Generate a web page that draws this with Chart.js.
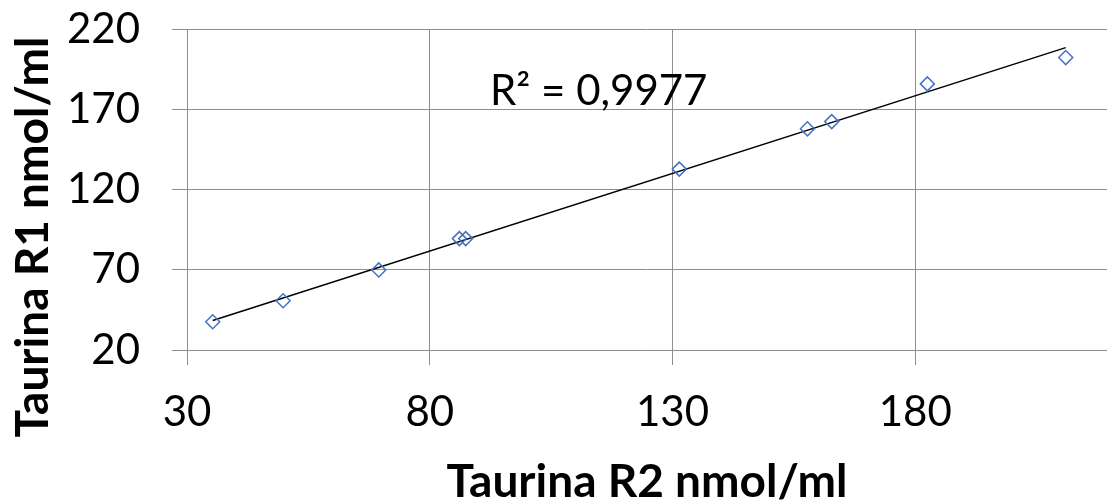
<!DOCTYPE html>
<html>
<head>
<meta charset="utf-8">
<script src="https://cdn.jsdelivr.net/npm/chart.js@4"></script>
<style>
  body { margin: 0; background: #fff; }
  #wrap { width: 1107px; height: 501px; position: relative; }
</style>
</head>
<body>
<div id="wrap"><canvas id="taurina"></canvas></div>
<script>
// Taurina R2 (x) vs Taurina R1 (y), nmol/ml
const xValues = [35.3, 49.8, 69.5, 86.1, 87.4, 131.4, 157.8, 162.8, 182.5, 211.0];
const yValues = [37.6, 50.7, 69.9, 89.4, 89.4, 132.7, 157.8, 162.3, 185.8, 202.2];
const xTicks = [30, 80, 130, 180];
const yTicks = [20, 70, 120, 170, 220];
const xTitle = 'Taurina R2 nmol/ml';
const yTitle = 'Taurina R1 nmol/ml';
const r2Label = 'R² = 0,9977';

const points = xValues.map((x, i) => ({ x: x, y: yValues[i] }));

// least squares trend line over the data range
const n = xValues.length;
const mx = xValues.reduce((a, b) => a + b, 0) / n;
const my = yValues.reduce((a, b) => a + b, 0) / n;
let sxy = 0, sxx = 0;
for (let i = 0; i < n; i++) {
  sxy += (xValues[i] - mx) * (yValues[i] - my);
  sxx += (xValues[i] - mx) * (xValues[i] - mx);
}
const slope = sxy / sxx;
const icpt = my - slope * mx;
const x0 = Math.min(...xValues), x1 = Math.max(...xValues);
const trend = [{ x: x0, y: icpt + slope * x0 }, { x: x1, y: icpt + slope * x1 }];

const gridColor = '#8e8e8e';
const fontFam = 'Lato, "Open Sans", sans-serif';

const extraText = {
  id: 'extraText',
  afterDraw(chart) {
    const ctx = chart.ctx;
    const xs = chart.scales.x, ys = chart.scales.y;
    ctx.save();
    ctx.fillStyle = '#000';
    ctx.font = '42px ' + fontFam;
    ctx.textAlign = 'left';
    ctx.textBaseline = 'alphabetic';
    ctx.fillText(r2Label, xs.getPixelForValue(92.4), ys.getPixelForValue(172.7));

    ctx.font = 'bold 46px ' + fontFam;
    ctx.translate(33, 237);
    ctx.rotate(-Math.PI / 2);
    ctx.textAlign = 'center';
    ctx.textBaseline = 'middle';
    ctx.fillText(yTitle, 0, 0);
    ctx.restore();
  }
};

const config = {
  type: 'scatter',
  data: {
    datasets: [
      {
        label: 'Taurina',
        data: points,
        pointStyle: 'rectRot',
        pointRadius: 7,
        pointHoverRadius: 7,
        borderColor: '#4472c4',
        backgroundColor: 'rgba(255,255,255,0)',
        borderWidth: 1.5,
        order: 1,
      },
      {
        label: 'Linear',
        type: 'line',
        data: trend,
        borderColor: '#000',
        borderWidth: 1.5,
        pointRadius: 0,
        fill: false,
        order: 2,
      },
    ]
  },
  options: {
    responsive: true,
    maintainAspectRatio: false,
    animation: false,
    layout: { autoPadding: false, padding: { top: 29, right: 0, bottom: 0, left: 0 } },
    plugins: {
      legend: { display: false },
      tooltip: { enabled: false },
    },
    scales: {
      x: {
        type: 'linear',
        min: 30,
        max: 219.5,
        afterBuildTicks: (s) => { s.ticks = xTicks.map(v => ({ value: v })); },
        afterFit: (s) => { s.height = 151; s.paddingLeft = 0; s.paddingRight = 0; },
        grid: { color: gridColor, lineWidth: 1, tickLength: 15, drawTicks: true },
        border: { color: gridColor, width: 1 },
        ticks: { color: '#000', font: { family: fontFam, size: 42 }, padding: 22, maxRotation: 0 },
        title: {
          display: true,
          text: xTitle,
          color: '#000',
          font: { family: fontFam, size: 46, weight: 'bold' },
          padding: { top: 0, bottom: -9 },
        },
      },
      y: {
        type: 'linear',
        min: 20,
        max: 220,
        afterBuildTicks: (s) => { s.ticks = yTicks.map(v => ({ value: v })); },
        afterFit: (s) => { s.width = 187; s.paddingTop = 0; s.paddingBottom = 0; },
        grid: { color: gridColor, lineWidth: 1, tickLength: 15, drawTicks: true },
        border: { color: gridColor, width: 1 },
        ticks: { color: '#000', font: { family: fontFam, size: 42 }, padding: 32 },
      },
    }
  },
  plugins: [extraText]
};

const chartTaurina = new Chart(document.getElementById('taurina'), config);
</script>
</body>
</html>
